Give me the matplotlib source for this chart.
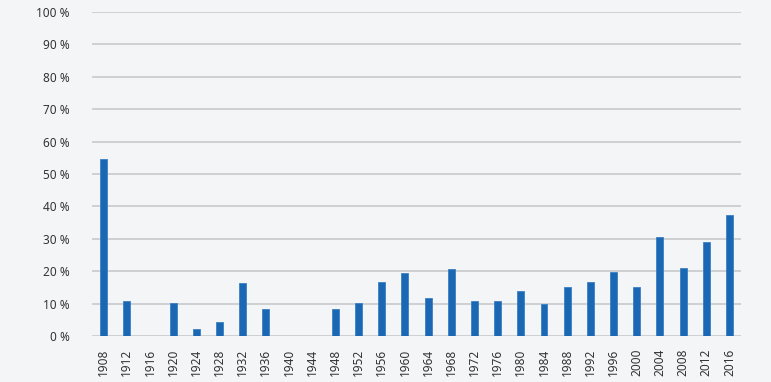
import matplotlib
matplotlib.use("Agg")
import matplotlib.pyplot as plt
import numpy as np

years = [str(y) for y in range(1908, 2017, 4)]
values = [54.6, 10.7, 0, 10.3, 2.3, 4.3, 16.3, 8.2, 0, 0, 8.4, 10.2, 16.7, 19.4,
          11.7, 20.6, 10.7, 10.9, 13.8, 9.9, 15.1, 16.6, 19.8, 15.1, 30.5, 21.0, 28.9, 37.2]
yticks = list(range(0, 101, 10))
ytick_labels = [f"{v} %" for v in yticks]

plt.rcParams['font.family'] = ['Noto Sans', 'DejaVu Sans']
bg = '#f4f5f7'
fig = plt.figure(figsize=(7.71, 3.82), dpi=100, facecolor=bg)
ax = fig.add_axes([92/771, 1-336/382, (741-92)/771, (336-12)/382])
ax.set_facecolor(bg)
x = np.arange(len(years))
ax.bar(x, values, width=0.3, color='#1a67b3', edgecolor='#3d80c4', linewidth=0.6, zorder=3)
ax.set_xlim(-0.5, len(years)-0.5)
ax.set_ylim(0, 100)
ax.set_yticks(yticks)
ax.set_yticklabels(ytick_labels, fontsize=8.5, color='#333333')
ax.set_xticks(x)
ax.set_xticklabels(years, rotation=90, fontsize=8.5, color='#333333')
ax.yaxis.grid(True, color='#c8c9cd', linewidth=1.2, zorder=0)
for s in ax.spines.values():
    s.set_visible(False)
ax.tick_params(axis='both', length=0)
ax.tick_params(axis='y', pad=16)
ax.tick_params(axis='x', pad=9)
fig.savefig('out.png', dpi=100, facecolor=bg)
